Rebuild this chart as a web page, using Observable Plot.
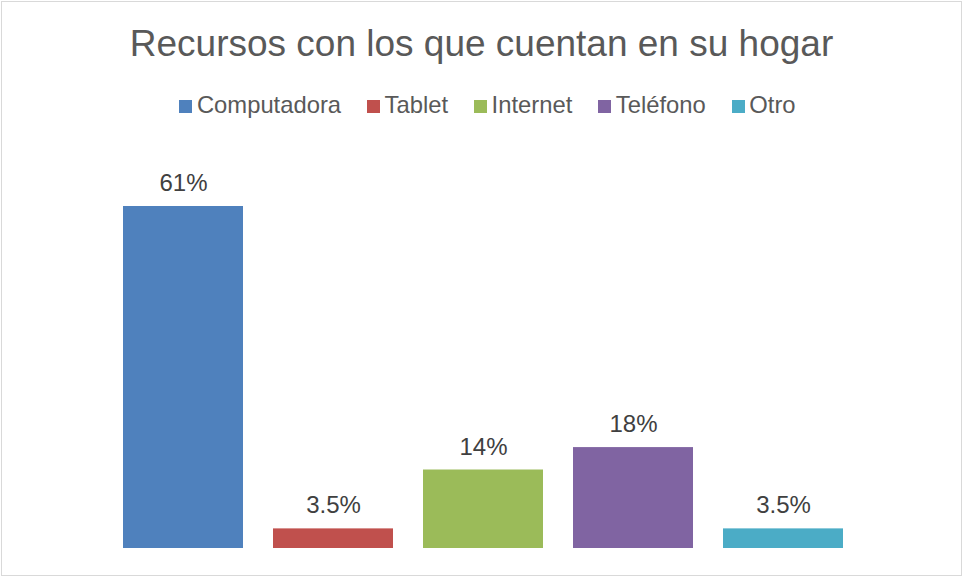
<!DOCTYPE html>
<html>
<head>
<meta charset="utf-8">
<script src="https://cdn.jsdelivr.net/npm/d3@7"></script>
<script src="https://cdn.jsdelivr.net/npm/@observablehq/plot@0.6"></script>
<style>
  html, body { margin: 0; padding: 0; background: #fff; }
  #chart { position: relative; width: 963px; height: 577px; overflow: hidden; font-family: "Liberation Sans", Arial, sans-serif; }
  #frame { position: absolute; left: 1px; top: 1px; width: 961px; height: 575px; box-sizing: border-box; border: 1px solid #d9d9d9; }
  #title { position: absolute; left: 0; top: 22px; width: 963px; text-align: center; font-size: 37px; line-height: 44px; color: #595959; white-space: nowrap; }
  #legend { position: absolute; left: 6px; top: 91px; width: 963px; display: flex; justify-content: center; align-items: baseline; font-size: 23.8px; line-height: 28px; color: #595959; white-space: nowrap; }
  .item { display: inline-flex; align-items: baseline; margin-right: 26px; }
  .item:last-child { margin-right: 0; }
  .sw { display: inline-block; width: 13px; height: 13px; margin-right: 4.5px; }
  #plot { position: absolute; left: 0; top: 140px; }
</style>
</head>
<body>
<div id="chart">
  <div id="frame"></div>
  <div id="title"></div>
  <div id="legend"></div>
  <div id="plot"></div>
</div>
<script>
const title = "Recursos con los que cuentan en su hogar";
const categories = ["Computadora", "Tablet", "Internet", "Teléfono", "Otro"];
const values = [61, 3.5, 14, 18, 3.5];
const colors = ["#4F81BD", "#C0504D", "#9BBB59", "#8064A2", "#4BACC6"];

const data = categories.map((c, i) => ({cat: c, value: values[i]}));

document.getElementById("title").textContent = title;
const legend = document.getElementById("legend");
categories.forEach((c, i) => {
  const item = document.createElement("span");
  item.className = "item";
  const sw = document.createElement("span");
  sw.className = "sw";
  sw.style.background = colors[i];
  const t = document.createElement("span");
  t.textContent = c;
  item.appendChild(sw);
  item.appendChild(t);
  legend.appendChild(item);
});

const chart = Plot.plot({
  width: 963,
  height: 437,
  marginLeft: 108,
  marginRight: 105,
  marginTop: 66,
  marginBottom: 29,
  style: {background: "transparent", fontFamily: "'Liberation Sans', Arial, sans-serif", overflow: "visible"},
  x: {domain: categories, paddingInner: 0.2, paddingOuter: 0.1, axis: null},
  y: {domain: [0, 61], axis: null},
  color: {domain: categories, range: colors},
  marks: [
    Plot.barY(data, {x: "cat", y: "value", fill: "cat"}),
    Plot.text(data, {x: "cat", y: "value", text: d => d.value + "%", lineAnchor: "bottom", dy: -15.5, fontSize: 24, fill: "#404040"})
  ]
});
document.getElementById("plot").appendChild(chart);
</script>
</body>
</html>
